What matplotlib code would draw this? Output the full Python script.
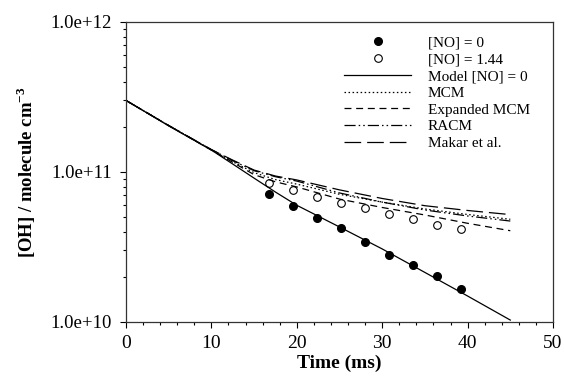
import matplotlib
matplotlib.use("Agg")
import matplotlib.pyplot as plt
from matplotlib.ticker import FixedLocator, FixedFormatter, MultipleLocator, LogLocator, NullFormatter

plt.rcParams["font.family"] = ["Liberation Serif", "DejaVu Serif"]
plt.rcParams["mathtext.fontset"] = "custom"
plt.rcParams["mathtext.rm"] = "Liberation Serif"
plt.rcParams["mathtext.bf"] = "Liberation Serif:bold"
plt.rcParams["lines.scale_dashes"] = False

# measured points
exp_time = [16.8, 19.6, 22.4, 25.2, 28.0, 30.8, 33.6, 36.4, 39.2]
oh_no0 = [7.1e10, 5.93e10, 4.96e10, 4.25e10, 3.41e10, 2.79e10, 2.4e10, 2.03e10, 1.65e10]
oh_no144 = [8.4e10, 7.55e10, 6.8e10, 6.24e10, 5.72e10, 5.25e10, 4.86e10, 4.43e10, 4.17e10]

# model curves
model_time = [0, 5, 10, 12.5, 15, 17.5, 20, 25, 30, 35, 40, 45]
model_no0 = [3.0e11, 2.03e11, 1.40e11, 1.13e11, 9.1e10, 7.35e10, 6.0e10, 4.3e10, 3.07e10, 2.14e10, 1.49e10, 1.03e10]
mcm = [3.0e11, 2.04e11, 1.40e11, 1.17e11, 9.9e10, 8.9e10, 8.3e10, 7.1e10, 6.3e10, 5.67e10, 5.21e10, 4.84e10]
expanded_mcm = [3.0e11, 2.04e11, 1.40e11, 1.16e11, 9.6e10, 8.6e10, 7.95e10, 6.6e10, 5.8e10, 5.17e10, 4.55e10, 4.06e10]
racm = [3.0e11, 2.04e11, 1.41e11, 1.19e11, 1.02e11, 9.3e10, 8.7e10, 7.25e10, 6.3e10, 5.58e10, 5.09e10, 4.71e10]
makar = [3.0e11, 2.04e11, 1.41e11, 1.2e11, 1.03e11, 9.4e10, 8.85e10, 7.6e10, 6.66e10, 5.96e10, 5.54e10, 5.2e10]

y_ticks = [1e10, 1e11, 1e12]
y_tick_labels = ["1.0e+10", "1.0e+11", "1.0e+12"]

fig = plt.figure(figsize=(5.64, 3.77), dpi=100)
ax = fig.add_axes([126 / 564, 1 - 322 / 377, 427 / 564, 300 / 377])

lw = 0.9
ax.plot(exp_time, oh_no0, "o", color="black", markersize=5.5, label="[NO] = 0")
ax.plot(exp_time, oh_no144, "o", mfc="white", mec="black", mew=0.8, markersize=5.5, label="[NO] = 1.44")
ax.plot(model_time, model_no0, color="black", lw=lw, label="Model [NO] = 0")
ax.plot(model_time, mcm, color="black", lw=lw, linestyle=(0, (1.1, 1.8)), label="MCM")
ax.plot(model_time, expanded_mcm, color="black", lw=lw, linestyle=(0, (5, 3.4)), label="Expanded MCM")
ax.plot(model_time, racm, color="black", lw=lw, linestyle=(0, (8, 2.2, 1.1, 2.2, 1.1, 2.2)), label="RACM")
ax.plot(model_time, makar, color="black", lw=lw, linestyle=(0, (12, 4.3)), label="Makar et al.")

ax.set_yscale("log")
ax.set_xlim(0, 50)
ax.set_ylim(1e10, 1e12)
ax.yaxis.set_major_locator(FixedLocator(y_ticks))
ax.yaxis.set_major_formatter(FixedFormatter(y_tick_labels))
ax.yaxis.set_minor_locator(LogLocator(base=10, subs=range(2, 10)))
ax.yaxis.set_minor_formatter(NullFormatter())
ax.xaxis.set_major_locator(MultipleLocator(10))
ax.xaxis.set_minor_locator(MultipleLocator(2))

ax.tick_params(which="major", direction="out", length=4, width=0.8, labelsize=14, pad=5)
ax.tick_params(axis="y", which="major", labelsize=13.5, pad=6)
ax.tick_params(which="minor", direction="out", length=2.5, width=0.8)
for side in ["top", "right", "bottom", "left"]:
    ax.spines[side].set_linewidth(0.9)
    ax.spines[side].set_color("#333333")

ax.set_xlabel("Time (ms)", fontsize=14, fontweight="bold", labelpad=2)
ax.set_ylabel(r"[OH] / molecule cm$^{\mathbf{-3}}$", fontsize=13.5, fontweight="bold", labelpad=9)

ax.legend(
    loc="upper left",
    bbox_to_anchor=(344 / 564, 1 - 36 / 377),
    bbox_transform=fig.transFigure,
    frameon=False,
    fontsize=11,
    handlelength=4.4,
    handletextpad=1.1,
    labelspacing=0.2,
    borderpad=0,
    borderaxespad=0,
    numpoints=1,
)

fig.savefig("out.png", dpi=100)
